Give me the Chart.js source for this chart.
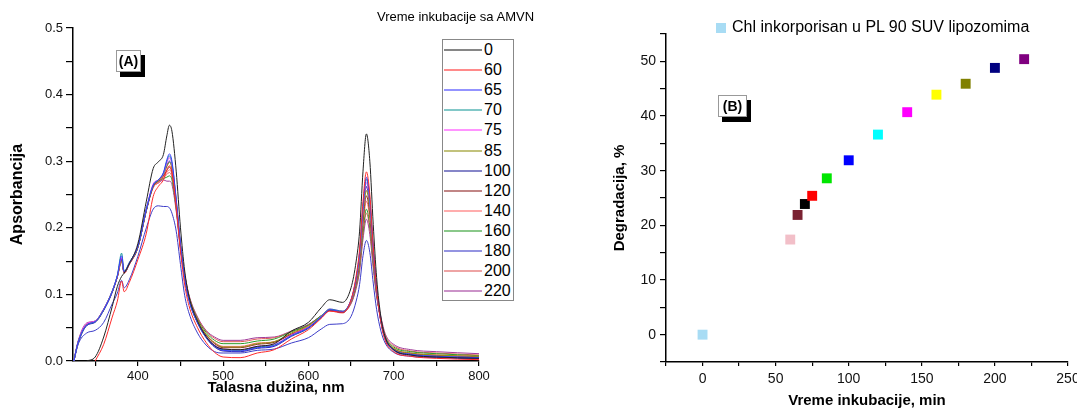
<!DOCTYPE html>
<html>
<head>
<meta charset="utf-8">
<script src="https://cdn.jsdelivr.net/npm/chart.js@4.4.0/dist/chart.umd.min.js"></script>
<style>
  body { margin: 0; width: 1077px; height: 412px; overflow: hidden; position: relative; background: #fff;
         font-family: "Liberation Sans", Arial, sans-serif; color: #000; }
  .pane { position: absolute; top: 0; height: 412px; }
  .panel-tag { position: absolute; background: #fff; border: 1px solid #999; box-shadow: 4px 5px 0 #000;
               font-weight: bold; font-size: 14px; line-height: 20px; text-align: center; box-sizing: border-box; }
  #spectraTitle { position: absolute; left: 377px; top: 9px; font-size: 13px; white-space: nowrap; }
  #spectraLegend { position: absolute; left: 442px; top: 39px; width: 72px; height: 262px; box-sizing: border-box;
                   border: 1px solid #888; background: #fff; }
  #spectraLegend .row { position: absolute; left: 0; height: 20px; width: 70px; }
  #spectraLegend .row span.line { position: absolute; left: 1px; top: 9px; width: 38px; height: 2px; opacity: 0.55; }
  #spectraLegend .row span.lbl { position: absolute; left: 41px; top: 0; font-size: 16px; line-height: 20px; }
  #pointLegend { position: absolute; left: 716px; top: 17px; font-size: 16px; line-height: 20px; white-space: nowrap; }
  #pointLegend .box { display: inline-block; width: 10px; height: 10px; margin-right: 6px; vertical-align: -1px; }
</style>
</head>
<body>
<div class="pane" style="left:0;width:540px"><canvas id="spectraChart" width="540" height="412"></canvas></div>
<div class="pane" style="left:540px;width:560px"><canvas id="degradationChart" width="560" height="412"></canvas></div>
<div id="spectraTitle">Vreme inkubacije sa AMVN</div>
<div id="spectraLegend"></div>
<div class="panel-tag" style="left:116px;top:50px;width:25px;height:22px">(A)</div>
<div class="panel-tag" style="left:718px;top:95px;width:29px;height:22px">(B)</div>
<div id="pointLegend"></div>

<script>
/* Panel A: absorption spectra, one row per incubation time */
const wavelengths = [325, 330, 340, 350, 360, 370, 376, 381, 384, 390,
  400, 410, 418, 424, 430, 434, 437, 440, 445, 450,
  455, 460, 470, 480, 490, 500, 520, 540, 560, 580,
  600, 615, 625, 640, 650, 656, 660, 664, 668, 672,
  676, 680, 685, 690, 700, 720, 750, 800];

const spectrumTimes = ['0', '60', '65', '70', '75', '85', '100', '120', '140', '160', '180', '200', '220'];

const abs0 = [null, null, 0, 0.006, 0.036, 0.082, 0.112, 0.127, 0.132, 0.146,
  0.176, 0.240, 0.289, 0.299, 0.310, 0.338, 0.354, 0.345, 0.285, 0.200,
  0.135, 0.097, 0.060, 0.037, 0.023, 0.018, 0.017, 0.022, 0.026, 0.045,
  0.058, 0.080, 0.092, 0.088, 0.110, 0.150, 0.195, 0.285, 0.341, 0.300,
  0.205, 0.125, 0.066, 0.036, 0.017, 0.009, 0.006, 0.004];
const abs60 = [null, null, null, 0, 0.025, 0.066, 0.090, 0.120, 0.104, 0.118,
  0.152, 0.192, 0.247, 0.262, 0.272, 0.287, 0.293, 0.284, 0.232, 0.165,
  0.114, 0.083, 0.050, 0.028, 0.013, 0.006, 0.005, 0.012, 0.017, 0.033,
  0.047, 0.064, 0.075, 0.073, 0.092, 0.128, 0.168, 0.240, 0.284, 0.250,
  0.172, 0.108, 0.058, 0.031, 0.014, 0.007, 0.004, 0.002];
const abs65 = [0, 0.028, 0.054, 0.059, 0.077, 0.104, 0.128, 0.158, 0.134, 0.147,
  0.172, 0.228, 0.264, 0.272, 0.283, 0.302, 0.311, 0.300, 0.243, 0.176,
  0.124, 0.092, 0.058, 0.036, 0.022, 0.016, 0.015, 0.020, 0.023, 0.038,
  0.050, 0.066, 0.077, 0.074, 0.092, 0.125, 0.163, 0.232, 0.276, 0.243,
  0.170, 0.108, 0.060, 0.034, 0.017, 0.010, 0.007, 0.005];
const abs70 = [0, 0.028, 0.054, 0.059, 0.077, 0.105, 0.129, 0.162, 0.135, 0.148,
  0.172, 0.228, 0.264, 0.272, 0.282, 0.300, 0.308, 0.297, 0.242, 0.175,
  0.124, 0.092, 0.058, 0.036, 0.023, 0.017, 0.016, 0.021, 0.024, 0.038,
  0.050, 0.067, 0.078, 0.075, 0.092, 0.124, 0.162, 0.230, 0.273, 0.240,
  0.169, 0.107, 0.060, 0.034, 0.017, 0.010, 0.007, 0.005];
const abs75 = [0, 0.029, 0.056, 0.060, 0.078, 0.105, 0.128, 0.155, 0.134, 0.147,
  0.173, 0.229, 0.266, 0.272, 0.281, 0.297, 0.305, 0.295, 0.240, 0.175,
  0.125, 0.093, 0.059, 0.037, 0.024, 0.018, 0.017, 0.022, 0.025, 0.039,
  0.051, 0.067, 0.078, 0.075, 0.091, 0.123, 0.159, 0.226, 0.268, 0.236,
  0.166, 0.107, 0.060, 0.034, 0.017, 0.010, 0.007, 0.005];
const abs85 = [0, 0.028, 0.055, 0.059, 0.077, 0.104, 0.127, 0.150, 0.133, 0.146,
  0.171, 0.227, 0.263, 0.271, 0.280, 0.292, 0.298, 0.289, 0.237, 0.173,
  0.126, 0.095, 0.061, 0.040, 0.027, 0.021, 0.021, 0.026, 0.029, 0.042,
  0.053, 0.067, 0.077, 0.074, 0.090, 0.120, 0.154, 0.216, 0.256, 0.226,
  0.160, 0.105, 0.061, 0.035, 0.019, 0.012, 0.009, 0.007];
const abs100 = [0, 0.026, 0.053, 0.058, 0.076, 0.103, 0.127, 0.152, 0.133, 0.146,
  0.171, 0.226, 0.263, 0.272, 0.280, 0.293, 0.300, 0.291, 0.238, 0.174,
  0.123, 0.091, 0.057, 0.035, 0.021, 0.015, 0.014, 0.019, 0.022, 0.037,
  0.049, 0.065, 0.076, 0.073, 0.091, 0.121, 0.157, 0.221, 0.262, 0.231,
  0.163, 0.106, 0.059, 0.033, 0.016, 0.009, 0.006, 0.004];
const abs120 = [0, 0.028, 0.054, 0.059, 0.077, 0.104, 0.127, 0.154, 0.133, 0.146,
  0.171, 0.227, 0.262, 0.270, 0.278, 0.286, 0.291, 0.283, 0.234, 0.172,
  0.126, 0.094, 0.060, 0.039, 0.026, 0.020, 0.020, 0.025, 0.028, 0.040,
  0.051, 0.066, 0.076, 0.073, 0.090, 0.118, 0.151, 0.210, 0.248, 0.220,
  0.157, 0.103, 0.060, 0.035, 0.018, 0.011, 0.008, 0.006];
const abs140 = [0, 0.028, 0.054, 0.059, 0.077, 0.104, 0.126, 0.149, 0.132, 0.145,
  0.170, 0.226, 0.261, 0.268, 0.277, 0.283, 0.287, 0.280, 0.232, 0.171,
  0.126, 0.095, 0.061, 0.040, 0.028, 0.022, 0.022, 0.027, 0.029, 0.041,
  0.052, 0.066, 0.075, 0.072, 0.089, 0.116, 0.147, 0.204, 0.240, 0.213,
  0.153, 0.102, 0.060, 0.035, 0.019, 0.012, 0.009, 0.007];
const abs160 = [0, 0.029, 0.055, 0.060, 0.078, 0.105, 0.127, 0.153, 0.133, 0.146,
  0.171, 0.227, 0.263, 0.270, 0.274, 0.276, 0.278, 0.272, 0.229, 0.170,
  0.128, 0.097, 0.063, 0.043, 0.031, 0.026, 0.026, 0.030, 0.033, 0.044,
  0.054, 0.068, 0.077, 0.074, 0.088, 0.113, 0.142, 0.194, 0.228, 0.203,
  0.147, 0.100, 0.062, 0.037, 0.021, 0.014, 0.011, 0.008];
const abs180 = [0, 0.025, 0.042, 0.046, 0.058, 0.086, 0.102, 0.121, 0.110, 0.122,
  0.157, 0.200, 0.228, 0.233, 0.232, 0.232, 0.230, 0.222, 0.195, 0.145,
  0.098, 0.072, 0.042, 0.024, 0.014, 0.012, 0.012, 0.016, 0.018, 0.027,
  0.035, 0.048, 0.055, 0.056, 0.067, 0.090, 0.115, 0.158, 0.181, 0.163,
  0.117, 0.077, 0.045, 0.027, 0.013, 0.007, 0.005, 0.003];
const abs200 = [0, 0.028, 0.054, 0.059, 0.077, 0.104, 0.126, 0.151, 0.132, 0.145,
  0.170, 0.226, 0.260, 0.268, 0.275, 0.280, 0.283, 0.276, 0.231, 0.171,
  0.129, 0.098, 0.065, 0.045, 0.034, 0.029, 0.029, 0.033, 0.035, 0.044,
  0.054, 0.068, 0.076, 0.073, 0.087, 0.111, 0.139, 0.190, 0.222, 0.198,
  0.144, 0.099, 0.064, 0.039, 0.023, 0.015, 0.012, 0.009];
const abs220 = [0, 0.030, 0.057, 0.060, 0.078, 0.105, 0.127, 0.150, 0.132, 0.145,
  0.170, 0.226, 0.262, 0.267, 0.272, 0.270, 0.270, 0.265, 0.225, 0.168,
  0.130, 0.099, 0.066, 0.046, 0.036, 0.031, 0.031, 0.035, 0.036, 0.045,
  0.055, 0.068, 0.077, 0.074, 0.086, 0.109, 0.135, 0.183, 0.213, 0.190,
  0.140, 0.097, 0.066, 0.041, 0.025, 0.017, 0.014, 0.011];

const spectraValues = [abs0, abs60, abs65, abs70, abs75, abs85, abs100, abs120, abs140, abs160, abs180, abs200, abs220];
const spectraColors = ['#222222', '#ff2a2a', '#3a3aff', '#1c9a9a', '#ff3cff', '#8f8f10', '#22229a',
  '#8e2222', '#ff6a6a', '#2a9a2a', '#3c3cc8', '#e05a5a', '#a03a9a'];

const wavelengthTicks = [350, 400, 450, 500, 550, 600, 650, 700, 750, 800];
const absorbanceTicks = [0, 0.05, 0.1, 0.15, 0.2, 0.25, 0.3, 0.35, 0.4, 0.45, 0.5];

/* Panel B: degradation vs incubation time */
const incubationMinutes = [0, 60, 65, 70, 75, 85, 100, 120, 140, 160, 180, 200, 220];
const degradationPercent = [0, 17.4, 21.9, 23.9, 25.4, 28.6, 31.9, 36.6, 40.7, 43.9, 45.9, 48.8, 50.4];
const markerColors = ['#a8dcf4', '#f2bfc8', '#7a2232', '#000000', '#ff0000', '#00e600', '#0000ff',
  '#00ffff', '#ff00ff', '#ffff00', '#808000', '#000080', '#800080'];
const degradationLabel = 'Chl inkorporisan u PL 90 SUV lipozomima';
const minuteTicks = [-25, 0, 25, 50, 75, 100, 125, 150, 175, 200, 225, 250];
const percentTicks = [-5, 0, 5, 10, 15, 20, 25, 30, 35, 40, 45, 50, 55];

Chart.defaults.font.family = '"Liberation Sans", Arial, sans-serif';
Chart.defaults.color = '#111';

function axisStyle(tickLength) {
  return {
    grid: { display: true, drawOnChartArea: false, drawTicks: true, tickLength, color: '#000', lineWidth: 1.2 },
    border: { display: true, color: '#000', width: 1.5 },
  };
}

function spectraChart() {
  const datasets = spectraValues.map((values, i) => ({
    label: spectrumTimes[i],
    data: wavelengths.map((w, j) => ({ x: w, y: values[j] })),
    borderColor: spectraColors[i],
    borderWidth: 1,
    pointRadius: 0,
    cubicInterpolationMode: 'monotone',
    spanGaps: false,
  }));

  return new Chart(document.getElementById('spectraChart'), {
    type: 'line',
    data: { datasets },
    options: {
      responsive: false,
      animation: false,
      events: [],
      layout: { padding: { left: 0, top: 28, right: 61, bottom: 0 } },
      plugins: { legend: { display: false }, tooltip: { enabled: false } },
      scales: {
        x: {
          type: 'linear',
          min: 324,
          max: 800,
          ...axisStyle(5),
          afterBuildTicks: (s) => { s.ticks = wavelengthTicks.map((v) => ({ value: v })); },
          afterFit: (s) => { s.height = 51; },
          ticks: {
            autoSkip: false, maxRotation: 0, padding: 3, font: { size: 13 }, color: '#111',
            callback: (v) => (v % 100 === 0 ? String(v) : ''),
          },
          title: {
            display: true, text: 'Talasna dužina, nm', color: '#000',
            font: { size: 15, weight: 'bold' }, padding: { top: 0, bottom: 15 },
          },
        },
        y: {
          min: 0,
          max: 0.5,
          ...axisStyle(7),
          afterBuildTicks: (s) => { s.ticks = absorbanceTicks.map((v) => ({ value: v })); },
          afterFit: (s) => { s.width = 73; },
          ticks: {
            padding: 3, font: { size: 13 }, color: '#111',
            callback: (v) => (Math.round(v * 100) % 10 === 0 ? v.toFixed(1) : ''),
          },
          title: {
            display: true, text: 'Apsorbancija', color: '#000',
            font: { size: 16, weight: 'bold' }, padding: { top: 8, bottom: 0 },
          },
        },
      },
    },
  });
}

function degradationChart() {
  return new Chart(document.getElementById('degradationChart'), {
    type: 'scatter',
    data: {
      datasets: [{
        label: degradationLabel,
        data: incubationMinutes.map((t, i) => ({ x: t, y: degradationPercent[i] })),
        pointStyle: 'rect',
        pointRadius: 7,
        pointBorderWidth: 0,
        pointBackgroundColor: markerColors,
        backgroundColor: markerColors[0],
      }],
    },
    options: {
      responsive: false,
      animation: false,
      events: [],
      layout: { padding: { left: 0, top: 34, right: 32, bottom: 0 } },
      plugins: { legend: { display: false }, tooltip: { enabled: false } },
      scales: {
        x: {
          type: 'linear',
          min: -25,
          max: 250,
          ...axisStyle(4),
          afterBuildTicks: (s) => { s.ticks = minuteTicks.map((v) => ({ value: v })); },
          afterFit: (s) => { s.height = 50; },
          ticks: {
            autoSkip: false, maxRotation: 0, padding: 5, font: { size: 14 }, color: '#111',
            callback: (v) => (v >= 0 && v % 50 === 0 ? String(v) : ''),
          },
          title: {
            display: true, text: 'Vreme inkubacije, min', color: '#000',
            font: { size: 15, weight: 'bold' }, padding: { top: 0, bottom: 2 },
          },
        },
        y: {
          min: -5,
          max: 55,
          ...axisStyle(6),
          afterBuildTicks: (s) => { s.ticks = percentTicks.map((v) => ({ value: v })); },
          afterFit: (s) => { s.width = 126; },
          ticks: {
            padding: 4, font: { size: 14 }, color: '#111',
            callback: (v) => (v >= 0 && v <= 50 && v % 10 === 0 ? String(v) : ''),
          },
          title: {
            display: true, text: 'Degradacija, %', color: '#000',
            font: { size: 15, weight: 'bold' }, padding: { top: 71, bottom: 0 },
          },
        },
      },
    },
  });
}

/* HTML legends built from the same arrays */
function buildLegends() {
  const box = document.getElementById('spectraLegend');
  spectrumTimes.forEach((t, i) => {
    const row = document.createElement('div');
    row.className = 'row';
    row.style.top = `${i * 20.1}px`;
    row.innerHTML = `<span class="line" style="background:${spectraColors[i]}"></span><span class="lbl">${t}</span>`;
    box.appendChild(row);
  });
  const pl = document.getElementById('pointLegend');
  pl.innerHTML = `<span class="box" style="background:${markerColors[0]}"></span>${degradationLabel}`;
}

spectraChart();
degradationChart();
buildLegends();
</script>
</body>
</html>
